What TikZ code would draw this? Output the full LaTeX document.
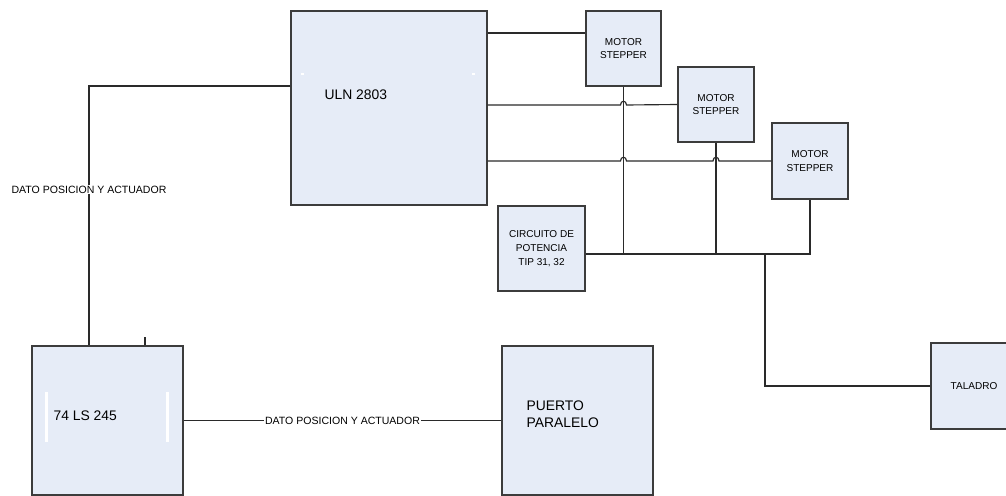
\documentclass[tikz,border=0pt]{standalone}
\usepackage{fontspec}
\setmainfont{Liberation Sans}
\usetikzlibrary{calc}
\definecolor{boxfill}{HTML}{E6ECF7}
\definecolor{boxline}{HTML}{3C3C3C}
\definecolor{wire}{HTML}{2A2A2A}
\begin{document}
\begin{tikzpicture}[x=0.02cm,y=-0.02cm,line width=0.65pt,draw=wire,
  blk/.style={draw=boxline,line width=0.8pt,fill=boxfill,inner sep=0pt},
  big/.style={font=\fontsize{7.9}{9.6}\selectfont,inner sep=0pt},
  small/.style={font=\fontsize{5.7}{7.9}\selectfont,align=center,inner sep=0pt},
  lbl/.style={font=\fontsize{6}{7}\selectfont,fill=white,inner sep=0.5pt},
  hop/.style={insert path={-- ($(#1)+(-3,0)$) .. controls +(0,-5) and +(0,-5) .. ($(#1)+(3,0)$)}}]
\useasboundingbox (0,0) rectangle (1006,496);
\clip (0,0) rectangle (1006,496);
% blocks
\node[blk,minimum width=3.92cm,minimum height=3.88cm] (uln) at (389,108) {};
\node[big,anchor=west] at (324,95) {ULN 2803};
\node[blk,minimum width=1.5cm,minimum height=1.5cm] (m1) at (623.5,48.5) {};
\node[blk,minimum width=1.52cm,minimum height=1.5cm] (m2) at (716,104.5) {};
\node[blk,minimum width=1.52cm,minimum height=1.52cm] (m3) at (810,161) {};
\foreach \m in {m1,m2,m3}
  \node[small] at (\m) {MOTOR\\STEPPER};
\node[blk,minimum width=1.74cm,minimum height=1.7cm] (pot) at (541.5,248.5) {};
\node[small] at (pot) {CIRCUITO DE\\POTENCIA\\TIP 31, 32};
\node[blk,minimum width=3.02cm,minimum height=2.98cm] (ls) at (107.5,420.5) {};
\node[big,anchor=west] at (53,416) {74 LS 245};
\node[blk,minimum width=3.02cm,minimum height=2.98cm] (pp) at (577.5,420.5) {};
\node[big,anchor=west,align=left] at (526,414.5) {PUERTO\\PARALELO};
\node[blk,minimum width=1.72cm,minimum height=1.72cm] (tal) at (974,386) {};
\node[small] at (tal) {TALADRO};
% white marks
\draw[white,line width=1.2pt] (46.5,392) -- (46.5,442) (167.5,392) -- (167.5,442);
\draw[white,line width=1.2pt] (301,74) -- (304,74) (472,74) -- (475,74);
% crossings
\coordinate (x1) at (m1.south |- 0,105);
\coordinate (x2) at (m1.south |- 0,161);
\coordinate (x3) at (m2.south |- 0,161);
\coordinate (bus) at (pot.east |- 0,254);
\coordinate (tap) at (765,254);
% wires
\draw (uln.east |- 0,33) -- (m1.west |- 0,33);
\draw (uln.east |- 0,105) [hop=x1] -- (m2.west);
\draw (uln.east |- 0,161) [hop=x2] [hop=x3] -- (m3.west);
\draw (bus) -| (m3.south);
\draw (m1.south) -- (m1.south |- bus);
\draw (m2.south) -- (m2.south |- bus);
\draw (tap) |- (tal.west);
\draw (uln.west |- 0,86) -| (ls.north -| 89,0)
  node[lbl,pos=0.7] {DATO POSICION Y ACTUADOR};
\draw (ls.north -| 145,0) -- ++(0,-8);
\draw (ls.east) -- node[lbl] {DATO POSICION Y ACTUADOR} (pp.west);
\end{tikzpicture}
\end{document}
